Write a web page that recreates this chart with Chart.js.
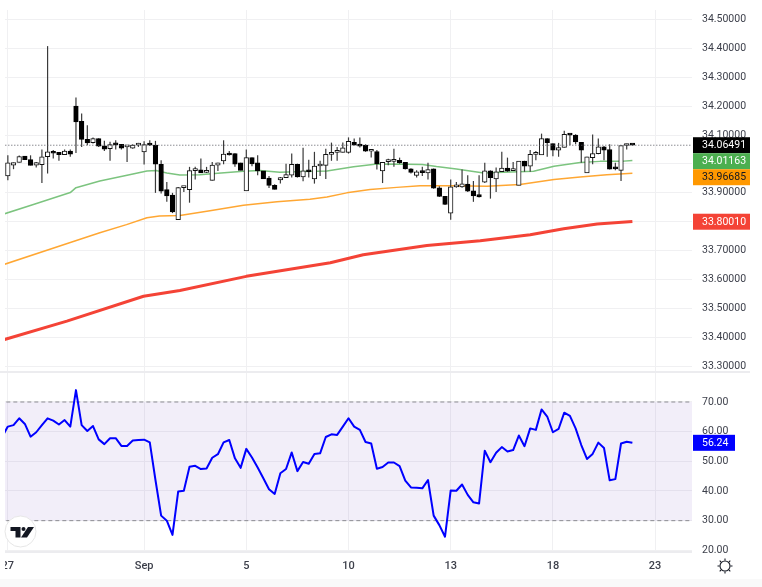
<!DOCTYPE html>
<html>
<head>
<meta charset="utf-8">
<script src="https://cdn.jsdelivr.net/npm/chart.js@4"></script>
<style>
  html, body { margin: 0; padding: 0; background: #fff; overflow: hidden; width: 762px; height: 587px; }
  canvas { position: absolute; left: 5px; }
  #priceChart { top: 10px; }
  #rsiChart { top: 373px; }
  .sep { position: absolute; background: #ececef; }
  #footer { position: absolute; left: 0; top: 579px; width: 762px; height: 8px; background: #f9f9f9; }
  #logo { position: absolute; left: 4px; top: 515px; }
  #gear { position: absolute; left: 717px; top: 558px; }
</style>
</head>
<body>
<canvas id="priceChart" width="757" height="362"></canvas>
<canvas id="rsiChart" width="757" height="206"></canvas>
<div class="sep" style="left:0;top:371px;width:750px;height:2px"></div>
<div id="footer"></div>
<svg id="logo" width="33" height="33" viewBox="0 0 33 33">
  <circle cx="16.5" cy="16.5" r="15.5" fill="#fff" stroke="#e6e6e6" stroke-width="1"/>
  <path d="M6.5 12h10v10.500h-5v-6.500h-5z" fill="#131722"/>
  <circle cx="19.500" cy="14" r="2" fill="#131722"/>
  <path d="M24 12h6l-7 10.500h-6z" fill="#131722"/>
</svg>
<svg id="gear" width="16" height="16" viewBox="0 0 16 16">
  <circle cx="8" cy="8" r="5" fill="none" stroke="#131722" stroke-width="1.1"/>
  <path d="M8 0.500v2M8 13.500v2M0.500 8h2M13.500 8h2M2.700 2.700l1.400 1.400M11.900 11.900l1.400 1.400M2.700 13.300l1.400-1.400M11.900 4.100l1.400-1.400" stroke="#131722" stroke-width="1.1"/>
</svg>
<script>
// tick labels
const xTickIndex = [0, 24, 42, 60, 78, 96, 114];
const xTickLabels = ['27', 'Sep', '5', '10', '13', '18', '23'];
const priceTicks = [33.3, 33.4, 33.5, 33.6, 33.7, 33.8, 33.9, 34.0, 34.1, 34.2, 34.3, 34.4, 34.5];
const rsiTicks = [20, 30, 40, 50, 60, 70];

// candles, one entry per bar
const opens = [
  33.959, 33.996, 34.005, 34.027, 34.015, 33.996, 33.998, 34.025, 34.040, 34.040,
  34.032, 34.045, 34.200, 34.148, 34.085, 34.074, 34.088, 34.063, 34.053, 34.068,
  34.068, 34.059, 34.055, 34.065, 34.042, 34.068, 34.065, 33.999, 33.911, 33.892,
  33.807, 33.918, 33.911, 33.977, 33.980, 33.971, 33.943, 33.996, 34.011, 34.036,
  34.036, 34.004, 33.907, 34.022, 34.004, 33.976, 33.951, 33.926, 33.945, 33.953,
  33.961, 33.999, 33.955, 33.976, 33.948, 33.993, 33.995, 34.033, 34.040, 34.040,
  34.040, 34.075, 34.065, 34.065, 34.044, 34.043, 33.976, 34.008, 34.009, 34.013,
  34.006, 33.983, 33.960, 33.974, 33.969, 33.983, 33.917, 33.888, 33.830, 33.921,
  33.921, 33.930, 33.907, 33.894, 33.937, 33.976, 33.948, 33.973, 33.986, 33.977,
  33.926, 34.010, 33.992, 34.033, 34.031, 34.088, 34.071, 34.048, 34.057, 34.103,
  34.100, 34.075, 33.969, 34.022, 34.036, 34.059, 34.050, 33.986, 33.978, 34.064,
  34.067
];
const highs = [
  34.030, 34.005, 34.029, 34.027, 34.030, 34.007, 34.050, 34.408, 34.048, 34.040,
  34.050, 34.050, 34.230, 34.175, 34.134, 34.092, 34.089, 34.080, 34.077, 34.082,
  34.069, 34.062, 34.068, 34.073, 34.079, 34.082, 34.080, 34.013, 33.938, 33.900,
  33.920, 33.923, 33.990, 33.990, 34.019, 33.990, 34.007, 34.004, 34.082, 34.045,
  34.037, 34.004, 34.050, 34.022, 34.030, 33.976, 33.958, 33.930, 33.955, 34.001,
  34.036, 34.001, 34.056, 34.015, 34.042, 34.011, 34.053, 34.074, 34.059, 34.074,
  34.092, 34.088, 34.092, 34.068, 34.046, 34.048, 34.006, 34.018, 34.053, 34.022,
  34.007, 33.985, 33.978, 33.990, 34.004, 33.984, 33.923, 33.888, 33.946, 33.938,
  33.981, 33.961, 33.941, 33.961, 34.004, 33.978, 33.988, 34.042, 34.022, 34.007,
  34.010, 34.011, 34.048, 34.045, 34.105, 34.089, 34.071, 34.073, 34.115, 34.105,
  34.103, 34.076, 34.025, 34.102, 34.088, 34.062, 34.068, 34.004, 34.064, 34.070,
  34.068
];
const lows = [
  33.944, 33.982, 34.005, 34.015, 33.995, 33.988, 33.934, 33.967, 34.019, 34.011,
  34.031, 34.025, 34.038, 34.059, 34.065, 34.071, 34.059, 34.045, 34.011, 34.050,
  34.050, 34.007, 34.053, 34.059, 33.998, 34.062, 33.900, 33.898, 33.869, 33.830,
  33.807, 33.903, 33.866, 33.946, 33.969, 33.969, 33.943, 33.976, 33.999, 34.029,
  33.990, 33.978, 33.907, 33.992, 33.961, 33.948, 33.917, 33.912, 33.932, 33.953,
  33.953, 33.953, 33.940, 33.953, 33.932, 33.958, 33.948, 34.011, 34.011, 34.040,
  34.036, 34.065, 34.057, 34.042, 34.022, 33.981, 33.934, 33.996, 33.990, 34.001,
  33.981, 33.967, 33.953, 33.958, 33.946, 33.914, 33.886, 33.858, 33.807, 33.918,
  33.918, 33.903, 33.869, 33.884, 33.934, 33.880, 33.903, 33.973, 33.973, 33.976,
  33.926, 33.973, 33.973, 34.013, 34.031, 34.025, 34.027, 34.025, 34.057, 34.065,
  34.068, 34.004, 33.969, 33.999, 34.034, 34.013, 33.981, 33.978, 33.941, 34.050,
  34.064
];
const closes = [
  34.004, 34.005, 34.026, 34.015, 33.995, 34.005, 34.025, 34.042, 34.037, 34.032,
  34.045, 34.034, 34.146, 34.085, 34.073, 34.088, 34.062, 34.051, 34.067, 34.066,
  34.055, 34.061, 34.065, 34.066, 34.067, 34.065, 33.999, 33.906, 33.889, 33.834,
  33.918, 33.920, 33.977, 33.980, 33.969, 33.972, 33.996, 34.004, 34.034, 34.031,
  33.999, 33.978, 34.022, 34.000, 33.976, 33.948, 33.926, 33.912, 33.953, 33.963,
  33.999, 33.955, 33.976, 33.973, 33.993, 33.997, 34.033, 34.040, 34.042, 34.056,
  34.078, 34.065, 34.062, 34.044, 34.045, 34.001, 34.006, 34.011, 34.011, 34.004,
  33.983, 33.971, 33.973, 33.970, 33.981, 33.916, 33.888, 33.860, 33.921, 33.923,
  33.931, 33.906, 33.889, 33.886, 33.976, 33.953, 33.973, 33.986, 33.975, 33.978,
  34.010, 33.992, 34.033, 34.035, 34.088, 34.074, 34.048, 34.057, 34.103, 34.100,
  34.076, 34.048, 34.025, 34.036, 34.059, 34.048, 33.982, 33.983, 34.064, 34.069,
  34.065
];

// moving averages at these bars
const greenBars = [-1, 4.5, 11, 12, 16.2, 21, 24.5, 26.2, 28, 30.3, 33.8, 37, 41.5, 44.4, 47.9, 52, 56.2, 60.9, 65, 70.3, 73, 75.5, 79, 83.8, 87.3, 92.6, 96.2, 100.8, 104.3, 107.9, 110];
const greenValues = [33.825, 33.860, 33.901, 33.918, 33.941, 33.961, 33.976, 33.977, 33.969, 33.962, 33.963, 33.968, 33.975, 33.977, 33.971, 33.974, 33.976, 33.990, 34.000, 33.999, 33.998, 33.991, 33.983, 33.969, 33.971, 33.975, 33.992, 34.005, 34.009, 34.009, 34.012];
const orangeBars = [-1, 11, 16.2, 20.9, 24.5, 26.7, 30.3, 35.6, 41.5, 47.4, 53.2, 56.2, 59.7, 63.8, 68.5, 72.6, 78.5, 84.4, 90.2, 96.2, 100.8, 105.5, 110];
const orangeValues = [33.650, 33.728, 33.762, 33.790, 33.814, 33.820, 33.822, 33.838, 33.857, 33.869, 33.878, 33.886, 33.900, 33.912, 33.919, 33.925, 33.925, 33.923, 33.929, 33.946, 33.955, 33.963, 33.968];
const redBars = [-1, 10.4, 23.9, 30.3, 42, 56.8, 62.6, 73.8, 83.2, 92, 97.9, 103.8, 110];
const redValues = [33.390, 33.456, 33.542, 33.562, 33.611, 33.658, 33.686, 33.718, 33.734, 33.755, 33.776, 33.792, 33.801];

// RSI, one entry per bar, the first one sits just left of the plot
const rsiValues = [
  58.3,
  61.7, 62.2, 64.5, 62.6, 58.3, 59.8, 62.2, 64.5, 63.7, 62.4,
  63.9, 61.7, 74.0, 62.2, 60.2, 61.9, 57.4, 55.8, 57.8, 57.8,
  55.2, 55.2, 57.0, 57.2, 57.3, 56.4, 43.7, 31.7, 30.0, 25.2,
  39.8, 40.1, 48.2, 48.5, 47.4, 47.6, 51.2, 52.4, 56.4, 57.2,
  51.0, 47.8, 54.2, 51.3, 47.9, 44.3, 40.6, 39.0, 46.0, 47.4,
  53.0, 46.7, 49.8, 49.2, 52.5, 52.7, 58.2, 59.1, 58.9, 61.7,
  64.5, 61.7, 60.6, 56.5, 56.0, 47.5, 48.1, 49.6, 49.6, 48.4,
  43.5, 41.2, 41.1, 40.9, 43.7, 31.7, 28.5, 24.6, 40.2, 40.1,
  42.2, 38.7, 36.2, 35.8, 53.6, 49.7, 52.9, 54.8, 53.3, 53.8,
  58.7, 55.1, 61.1, 60.6, 67.5, 65.1, 59.8, 60.9, 66.4, 65.3,
  61.1, 55.5, 50.8, 52.5, 56.3, 54.5, 43.6, 44.0, 56.0, 56.6,
  56.24
];
const rsiBandTop = 70;
const rsiBandBottom = 30;

// last values shown in the right axis
const lastPrice = 34.06491;
const lastGreen = 34.01163;
const lastOrange = 33.96685;
const lastRed = 33.80010;
const lastRsi = 56.24;

const FONT = { family: 'Roboto', size: 10.5 };
const TEXT = '#3c3f4a';
const GRID = '#f0f0f2';
const X_MIN = -0.5;
const X_MAX = 120.5;
const AXIS_W = 70;

Chart.defaults.font.family = FONT.family;

function toPoints(xs, ys) {
  return xs.map((x, i) => ({ x: x, y: ys[i] }));
}

function lineSet(xs, ys, color, width, order) {
  return {
    type: 'line', data: toPoints(xs, ys), borderColor: color, borderWidth: width,
    pointRadius: 0, tension: 0, fill: false, order: order, borderJoinStyle: 'round'
  };
}

function xAxis(showLabels) {
  return {
    type: 'linear', min: X_MIN, max: X_MAX, offset: false,
    grid: { color: GRID, offset: false, drawTicks: false },
    border: { display: false },
    afterBuildTicks: s => { s.ticks = xTickIndex.map(v => ({ value: v })); },
    afterFit: s => {
      s.paddingLeft = 0;
      s.paddingRight = 0;
      s.height = showLabels ? 27 : 0;
    },
    ticks: {
      display: showLabels, autoSkip: false, maxRotation: 0, padding: 8, color: TEXT,
      font: { size: 11, weight: '500' },
      callback: v => xTickLabels[xTickIndex.indexOf(v)]
    }
  };
}

function yAxis(min, max, values, digits) {
  return {
    position: 'right', min: min, max: max,
    grid: { color: GRID, drawTicks: false },
    border: { display: false },
    afterBuildTicks: s => { s.ticks = values.map(v => ({ value: v })); },
    afterFit: s => {
      s.width = AXIS_W;
      s.paddingTop = 0;
      s.paddingBottom = 0;
    },
    ticks: {
      padding: 10, color: TEXT, font: FONT, autoSkip: false,
      callback: v => v.toFixed(digits)
    }
  };
}

// value tags over the right axis, pushed down when they would overlap
function drawTags(chart, tags, tagWidth) {
  const ctx = chart.ctx;
  const y = chart.scales.y;
  const x0 = chart.chartArea.right + 1;
  let lastBottom = -100;
  ctx.save();
  ctx.font = FONT.size + 'px ' + FONT.family;
  ctx.textBaseline = 'middle';
  ctx.textAlign = 'left';
  tags.forEach(tag => {
    const mid = Math.max(y.getPixelForValue(tag.value), lastBottom + 8);
    ctx.fillStyle = tag.bg;
    ctx.fillRect(x0, mid - 8, tagWidth, 16);
    ctx.fillStyle = tag.fg;
    ctx.fillText(tag.text, chart.chartArea.right + 10, mid + 0.5);
    lastBottom = mid + 8;
  });
  ctx.restore();
}

const upBars = [], downBars = [], wicks = [];
closes.forEach((close, i) => {
  wicks.push({ x: i, y: [lows[i], highs[i]] });
  const body = { x: i, y: [Math.min(opens[i], close), Math.max(opens[i], close)] };
  if (close >= opens[i]) upBars.push(body);
  else downBars.push(body);
});

const lastLine = lineSet([X_MIN - 1, X_MAX + 1], [lastPrice, lastPrice], '#55585f', 1, 1);
lastLine.borderDash = [1, 2];

new Chart(document.getElementById('priceChart'), {
  type: 'bar',
  data: {
    datasets: [
      lastLine,
      lineSet(greenBars, greenValues, '#7cc47f', 1.5, 6),
      lineSet(orangeBars, orangeValues, '#ffa733', 1.5, 6),
      lineSet(redBars, redValues, '#f44336', 3, 6),
      { data: wicks, backgroundColor: '#3a3a3a', barThickness: 1.2, grouped: false, order: 5, inflateAmount: 0 },
      { data: upBars, backgroundColor: '#fff', borderColor: '#111', borderWidth: 1, borderSkipped: false, barThickness: 4.6, minBarLength: 2, grouped: false, order: 4 },
      { data: downBars, backgroundColor: '#000', borderColor: '#000', borderWidth: 1, borderSkipped: false, barThickness: 4.6, minBarLength: 2, grouped: false, order: 4 }
    ]
  },
  options: {
    responsive: false, animation: false, devicePixelRatio: 1,
    layout: { padding: 0 },
    plugins: { legend: { display: false }, tooltip: { enabled: false } },
    scales: { x: xAxis(false), y: yAxis(33.2799, 34.533, priceTicks, 5) }
  },
  plugins: [{
    id: 'priceTags',
    afterDraw: chart => drawTags(chart, [
      { value: lastPrice, text: lastPrice.toFixed(5), bg: '#000', fg: '#fff' },
      { value: lastGreen, text: lastGreen.toFixed(5), bg: '#4caf50', fg: '#fff' },
      { value: lastOrange, text: lastOrange.toFixed(5), bg: '#ff9800', fg: '#131722' },
      { value: lastRed, text: lastRed.toFixed(5), bg: '#f44336', fg: '#fff' }
    ], 57)
  }]
});

const rsiBars = rsiValues.map((v, i) => i - 1);

new Chart(document.getElementById('rsiChart'), {
  type: 'line',
  data: {
    datasets: [
      {
        data: toPoints([X_MIN - 1, X_MAX + 1], [rsiBandTop, rsiBandTop]), borderColor: '#8b8b90', borderWidth: 1,
        borderDash: [4, 3], pointRadius: 0, fill: '+1', backgroundColor: 'rgba(126,87,194,0.1)', order: 3
      },
      {
        data: toPoints([X_MIN - 1, X_MAX + 1], [rsiBandBottom, rsiBandBottom]), borderColor: '#8b8b90', borderWidth: 1,
        borderDash: [4, 3], pointRadius: 0, fill: false, order: 2
      },
      lineSet(rsiBars, rsiValues, '#0000ff', 2, 1)
    ]
  },
  options: {
    responsive: false, animation: false, devicePixelRatio: 1,
    layout: { padding: 0 },
    plugins: { legend: { display: false }, tooltip: { enabled: false } },
    scales: { x: xAxis(true), y: yAxis(19.44, 79.77, rsiTicks, 2) }
  },
  plugins: [{
    id: 'rsiFrame',
    afterDraw: chart => {
      const ctx = chart.ctx;
      const area = chart.chartArea;
      // bottom rule, it also cuts off the 20.00 label like the original
      ctx.save();
      ctx.fillStyle = '#fff';
      ctx.fillRect(area.right, area.bottom + 1, 80, 30);
      ctx.fillStyle = '#ececef';
      ctx.fillRect(area.left, area.bottom - 1, area.right - area.left, 2);
      ctx.restore();
      drawTags(chart, [{ value: lastRsi, text: lastRsi.toFixed(2), bg: '#0000ff', fg: '#fff' }], 42);
    }
  }]
});
</script>
</body>
</html>
